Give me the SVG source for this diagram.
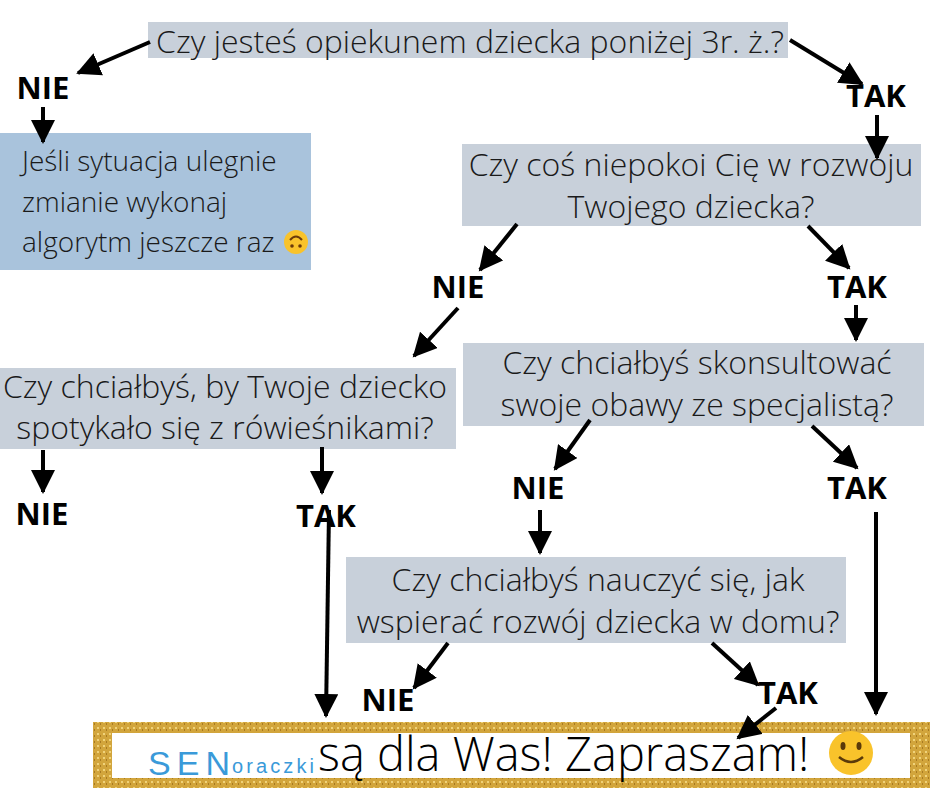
<svg xmlns="http://www.w3.org/2000/svg" width="940" height="788" viewBox="0 0 940 788">
<style>
.q{fill:#c8d0da}
.t{font-family:"Open Sans","Liberation Sans",sans-serif;font-size:32px;fill:#1a1a1a;font-weight:300}
.s{font-size:28px}
.b{font-family:"Open Sans","Liberation Sans",sans-serif;font-size:31px;font-weight:700;fill:#000;text-anchor:middle}
.c{text-anchor:middle}
.a{stroke:#000;stroke-width:4;fill:none;marker-end:url(#h)}
</style>
<defs>
<marker id="h" markerUnits="userSpaceOnUse" markerWidth="26" markerHeight="24" refX="22" refY="12" orient="auto"><path d="M0,0 L24,12 L0,24 Z" fill="#000"/></marker>
<pattern id="g" width="6" height="6" patternUnits="userSpaceOnUse"><rect width="6" height="6" fill="#d2a53c"/><rect x="1" y="1" width="2" height="2" fill="#f0d27a"/><rect x="4" y="3" width="1" height="2" fill="#a87a22"/></pattern>
</defs>
<rect width="940" height="788" fill="#fff"/>
<g id="q1"><rect class="q" x="148" y="22" width="640" height="36"/><text class="t c" x="470" y="53">Czy jesteś opiekunem dziecka poniżej 3r. ż.?</text></g>
<g id="info"><rect x="0" y="133" width="311" height="137" fill="#a9c3dc"/>
<text class="t s" x="22" y="171">Jeśli sytuacja ulegnie</text>
<text class="t s" x="22" y="212">zmianie wykonaj</text>
<text class="t s" x="22" y="252">algorytm jeszcze raz</text>
<circle cx="296" cy="242" r="12" fill="#f9c32b"/><path d="M290,240 q6,-7 12,0" stroke="#6b3a0a" stroke-width="2" fill="none"/><circle cx="292" cy="246" r="1.8" fill="#6b3a0a"/><circle cx="300" cy="246" r="1.8" fill="#6b3a0a"/></g>
<g id="q2"><rect class="q" x="462" y="144" width="459" height="82"/><text class="t c" x="691" y="176">Czy coś niepokoi Cię w rozwoju</text><text class="t c" x="691" y="218">Twojego dziecka?</text></g>
<g id="q3"><rect class="q" x="463" y="343" width="461" height="83"/><text class="t c" x="697" y="374">Czy chciałbyś skonsultować</text><text class="t c" x="697" y="416">swoje obawy ze specjalistą?</text></g>
<g id="q4"><rect class="q" x="0" y="368" width="456" height="81"/><text class="t c" x="225" y="398">Czy chciałbyś, by Twoje dziecko</text><text class="t c" x="225" y="439">spotykało się z rówieśnikami?</text></g>
<g id="q5"><rect class="q" x="346" y="557" width="500" height="86"/><text class="t c" x="598" y="591">Czy chciałbyś nauczyć się, jak</text><text class="t c" x="598" y="633">wspierać rozwój dziecka w domu?</text></g>
<g id="labels">
<text class="b" x="43" y="99">NIE</text><text class="b" x="876" y="107">TAK</text>
<text class="b" x="458" y="298">NIE</text><text class="b" x="857" y="298">TAK</text>
<text class="b" x="42" y="525">NIE</text><text class="b" x="326" y="527">TAK</text>
<text class="b" x="538" y="499">NIE</text><text class="b" x="857" y="499">TAK</text>
<text class="b" x="388" y="711">NIE</text><text class="b" x="788" y="704">TAK</text>
</g>
<g id="final"><rect x="93" y="722" width="837" height="66" fill="url(#g)"/><rect x="112" y="733" width="798" height="45" fill="#fff"/>
<text x="148" y="775" font-family="Liberation Sans,sans-serif" font-size="34" fill="#3a9ad9" textLength="82">SEN</text>
<text x="232" y="773" font-family="Liberation Sans,sans-serif" font-size="20" fill="#3a9ad9" textLength="82">oraczki</text>
<text x="318" y="771" font-family="Open Sans,Liberation Sans,sans-serif" font-size="47" fill="#000" font-weight="300">są dla Was! Zapraszam!</text>
<circle cx="851" cy="753" r="22" fill="#f9c32b"/><ellipse cx="843" cy="746" rx="2.5" ry="4" fill="#5a3a0a"/><ellipse cx="859" cy="746" rx="2.5" ry="4" fill="#5a3a0a"/><path d="M839,757 q12,10 24,0" stroke="#5a3a0a" stroke-width="2.5" fill="none"/></g>
<g id="connectors">
<line class="a" x1="150" y1="42" x2="78" y2="73"/>
<line class="a" x1="790" y1="40" x2="862" y2="84"/>
<line class="a" x1="43" y1="107" x2="43" y2="142"/>
<line class="a" x1="877" y1="115" x2="877" y2="158"/>
<line class="a" x1="517" y1="224" x2="480" y2="270"/>
<line class="a" x1="808" y1="226" x2="849" y2="268"/>
<line class="a" x1="458" y1="308" x2="414" y2="356"/>
<line class="a" x1="856" y1="305" x2="856" y2="340"/>
<line class="a" x1="43" y1="450" x2="43" y2="492"/>
<line class="a" x1="322" y1="447" x2="322" y2="493"/>
<line class="a" x1="590" y1="420" x2="555" y2="469"/>
<line class="a" x1="812" y1="426" x2="857" y2="468"/>
<line class="a" x1="540" y1="510" x2="540" y2="553"/>
<line class="a" x1="329" y1="510" x2="326" y2="716"/>
<line class="a" x1="876" y1="512" x2="876" y2="714"/>
<line class="a" x1="448" y1="643" x2="414" y2="688"/>
<line class="a" x1="712" y1="643" x2="758" y2="685"/>
<line class="a" x1="776" y1="708" x2="738" y2="738"/>
</g>
</svg>
